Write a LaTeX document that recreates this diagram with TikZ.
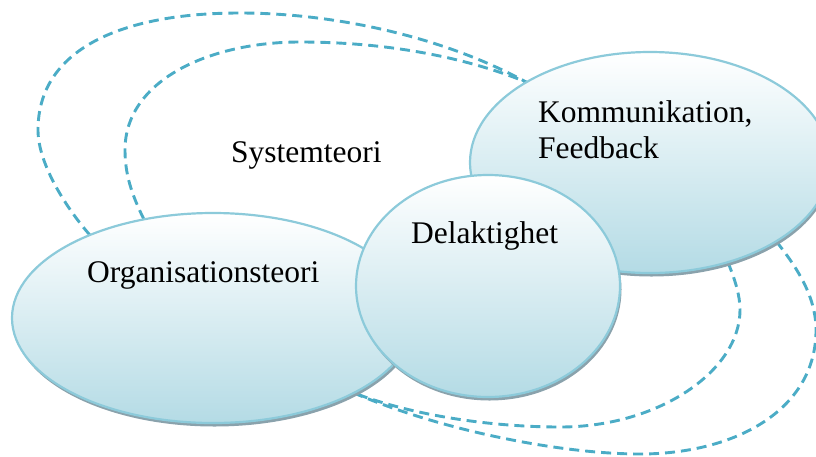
\documentclass[tikz,border=0pt]{standalone}
\usepackage{fontspec}
\setmainfont{Liberation Serif}
\usetikzlibrary{shapes.geometric}

\definecolor{rim}{RGB}{140,202,218}
\definecolor{basefill}{RGB}{180,219,229}
\definecolor{shadegrey}{RGB}{138,162,172}
\definecolor{loopblue}{RGB}{75,172,198}

\tikzset{
  bubble/.style={ellipse, draw=rim, line width=2.2pt, top color=white,
    bottom color=basefill, inner sep=0pt},
  bubbleshadow/.style={ellipse, fill=shadegrey, inner sep=0pt},
  caption/.style={inner sep=0pt, anchor=base west,
    font=\fontsize{31.5}{36}\selectfont},
  feedback/.style={draw=loopblue, line width=2.9pt,
    dash pattern=on 10pt off 6pt},
}

\begin{document}
\begin{tikzpicture}[x=1pt, y=-1pt]
  \useasboundingbox (0,0) rectangle (816,456);

  % reference points for the loops (ellipse borders, drawn later on top)
  \path
    node[ellipse, inner sep=0pt, minimum width=402pt, minimum height=210pt] (org)  at (213,318) {}
    node[ellipse, inner sep=0pt, minimum width=360pt, minimum height=221pt] (komm) at (650,162.5) {};

  % dashed loops linking the theory bubbles
  \draw[feedback] (org.146.4) .. controls (68,210) and (38,165) .. (38,130)
    .. controls (38,50) and (120,13) .. (240,13)
    .. controls (330,13) and (440,35) .. (komm.147);
  \draw[feedback] (org.125.4) .. controls (132,195) and (125,175) .. (125,150)
    .. controls (125,80) and (210,42) .. (300,42)
    .. controls (380,42) and (460,55) .. (komm.147);
  \draw[feedback] (komm.-52) .. controls (735,280) and (740,295) .. (740,310)
    .. controls (740,370) and (660,427) .. (560,427)
    .. controls (500,427) and (420,418) .. (org.-28);
  \draw[feedback] (komm.-32) .. controls (795,265) and (816,295) .. (816,330)
    .. controls (816,410) and (735,454) .. (640,454)
    .. controls (560,454) and (440,430) .. (org.-28);

  % communication bubble
  \node[bubbleshadow, minimum width=360pt, minimum height=221pt] (kommshadow) at (651.5,166) {};
  \node[bubble, minimum width=360pt, minimum height=221pt] (kommbubble) at (650,162.5) {};

  % organisation bubble
  \node[bubbleshadow, minimum width=402pt, minimum height=210pt] (orgshadow) at (214.5,321.5) {};
  \node[bubble, minimum width=402pt, minimum height=210pt] (orgbubble) at (213,318) {};

  % participation bubble on top
  \node[bubbleshadow, minimum width=264pt, minimum height=222pt] (delshadow) at (489.5,289.5) {};
  \node[bubble, minimum width=264pt, minimum height=222pt] (del) at (488,286) {};

  % texts (a two-line node sits on the baseline of its last line)
  \node[caption] (torg) at (87,282) {Organisationsteori};
  \node[caption] (tsys) at (231,162) {Systemteori};
  \node[caption] (tdel) at (411,243) {Delaktighet};
  \node[caption, align=left] (tkom) at (538,158) {Kommunikation,\\Feedback};
\end{tikzpicture}
\end{document}
